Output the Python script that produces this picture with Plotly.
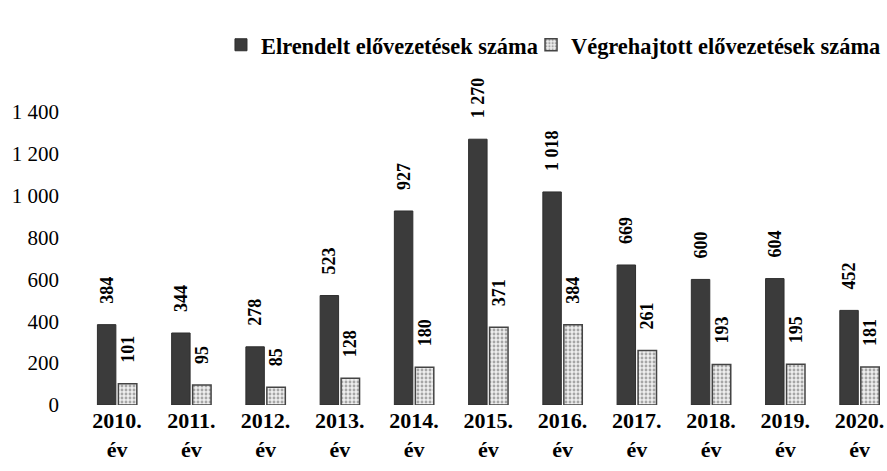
import plotly.graph_objects as go

years = ["2010.", "2011.", "2012.", "2013.", "2014.", "2015.", "2016.", "2017.", "2018.", "2019.", "2020."]
categories = [y + "<br>év" for y in years]
elrendelt = [384, 344, 278, 523, 927, 1270, 1018, 669, 600, 604, 452]
vegrehajtott = [101, 95, 85, 128, 180, 371, 384, 261, 193, 195, 181]
series_names = ["Elrendelt elővezetések száma", "Végrehajtott elővezetések száma"]
y_ticks = [0, 200, 400, 600, 800, 1000, 1200, 1400]

FONT = "Liberation Serif, Times New Roman, serif"
PAD = "\u00a0\u00a0\u00a0\u00a0"


def fmt(v):
    return f"{v:,}".replace(",", "\u00a0")


fig = go.Figure()
fig.add_trace(go.Bar(
    name=series_names[0], x=categories, y=elrendelt,
    text=[PAD + fmt(v) for v in elrendelt],
    textposition="outside", textangle=-90, constraintext="none",
    textfont=dict(family=FONT, size=18, color="black", weight="bold"),
    marker=dict(color="#3b3b3b", line=dict(color="#2e2e2e", width=1)),
    cliponaxis=False, legend="legend",
))
fig.add_trace(go.Bar(
    name=series_names[1], x=categories, y=vegrehajtott,
    text=[PAD + fmt(v) for v in vegrehajtott],
    textposition="outside", textangle=-90, constraintext="none",
    textfont=dict(family=FONT, size=18, color="black", weight="bold"),
    marker=dict(color="white",
                pattern=dict(shape=".", fgcolor="#5e5e5e", bgcolor="#eeeeee", size=4, solidity=0.4),
                line=dict(color="#444444", width=1.5)),
    cliponaxis=False, legend="legend2",
))

legend_font = dict(family=FONT, size=22.4, color="black", weight="bold")
fig.update_layout(
    width=887, height=471,
    margin=dict(l=80, r=0, t=112, b=66, autoexpand=False),
    paper_bgcolor="white", plot_bgcolor="white",
    barmode="group", bargap=0.435, bargroupgap=0.12,
    font=dict(family=FONT, color="black"),
    showlegend=True,
    legend=dict(orientation="h", x=0.1747, xanchor="left", y=1.228, yanchor="middle",
                font=legend_font, itemwidth=30, bgcolor="rgba(0,0,0,0)"),
    legend2=dict(orientation="h", x=0.5589, xanchor="left", y=1.228, yanchor="middle",
                 font=legend_font, itemwidth=30, bgcolor="rgba(0,0,0,0)"),
)
fig.update_xaxes(
    range=[-0.5, 10.37], showgrid=False, showline=False, zeroline=False,
    ticks="", tickangle=0, automargin=False,
    tickfont=dict(family=FONT, size=22, color="black", weight="bold"),
)
fig.update_yaxes(
    range=[0, 1400], showgrid=False, showline=False, zeroline=False,
    tickvals=y_ticks, ticktext=[fmt(v) for v in y_ticks], automargin=False,
    tickfont=dict(family=FONT, size=21, color="black"),
    ticklabelstandoff=20,
)

fig.write_html(
    "out.html",
    config={"displayModeBar": False},
    post_script="document.body.style.margin='0';document.body.style.overflow='hidden';",
)
